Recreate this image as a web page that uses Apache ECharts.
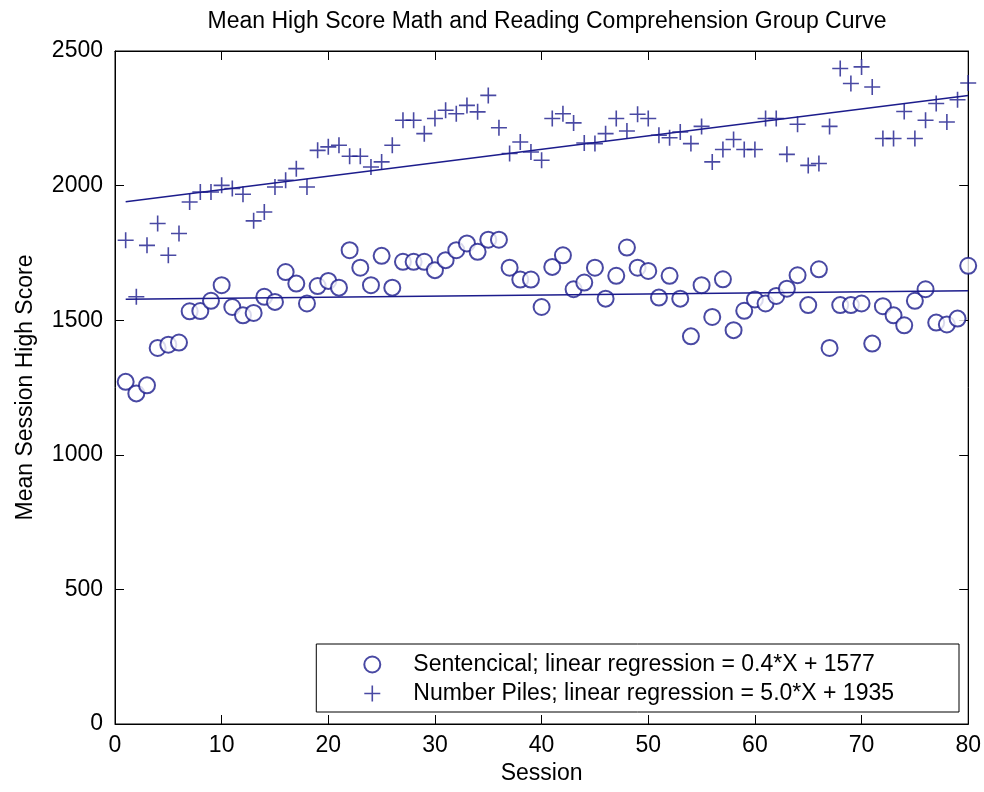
<!DOCTYPE html>
<html>
<head>
<meta charset="utf-8">
<script src="https://cdn.jsdelivr.net/npm/echarts@6/dist/echarts.min.js"></script>
<style>
html,body{margin:0;padding:0;background:#fff;}
#chart{width:984px;height:792px;}
</style>
</head>
<body>
<div id="chart"></div>
<script>
const sessions = [1,2,3,4,5,6,7,8,9,10,11,12,13,14,15,16,17,18,19,20,21,22,23,24,25,26,27,28,29,30,31,32,33,34,35,36,37,38,39,40,41,42,43,44,45,46,47,48,49,50,51,52,53,54,55,56,57,58,59,60,61,62,63,64,65,66,67,68,69,70,71,72,73,74,75,76,77,78,79,80];
const sentencical = [1271,1228,1258,1397,1409,1417,1533,1534,1572,1630,1549,1518,1527,1587,1568,1679,1636,1562,1627,1646,1621,1760,1695,1630,1739,1621,1717,1717,1717,1686,1723,1760,1785,1754,1799,1799,1695,1651,1651,1549,1698,1741,1615,1640,1695,1580,1665,1770,1695,1683,1584,1665,1580,1440,1630,1512,1652,1463,1535,1577,1562,1590,1617,1667,1556,1689,1397,1556,1556,1562,1413,1552,1518,1481,1572,1615,1491,1484,1506,1702];
const numberPiles = [1797,1587,1778,1859,1741,1822,1939,1976,1976,2001,1989,1968,1869,1902,1995,2020,2063,1995,2131,2144,2150,2109,2109,2069,2088,2150,2243,2243,2193,2249,2280,2267,2298,2274,2335,2215,2119,2162,2125,2094,2249,2267,2233,2158,2156,2193,2249,2203,2265,2249,2187,2178,2199,2156,2220,2088,2134,2171,2134,2134,2249,2249,2116,2228,2075,2082,2220,2435,2379,2441,2366,2175,2175,2275,2175,2243,2305,2236,2319,2381];
const regSentencical = {slope: 0.4, intercept: 1577};
const regNumberPiles = {slope: 5.0, intercept: 1935};
const xTicks = [0,10,20,30,40,50,60,70,80];
const yTicks = [0,500,1000,1500,2000,2500];
const seriesNames = ['Sentencical; linear regression = 0.4*X + 1577', 'Number Piles; linear regression = 5.0*X + 1935'];

const FONT = '"Liberation Sans Narrow","Arial Narrow","Liberation Sans",sans-serif';
const FS = 23;
const C = '#1c1c8c';
const PLUS = 'path://M4.5,0 L5.5,0 L5.5,4.5 L10,4.5 L10,5.5 L5.5,5.5 L5.5,10 L4.5,10 L4.5,5.5 L0,5.5 L0,4.5 L4.5,4.5 Z';

function pairs(xs, ys){ return xs.map((x,i)=>[x, ys[i]]); }
function regLine(r){
  const x0 = sessions[0], x1 = sessions[sessions.length-1];
  return [[x0, r.slope*x0 + r.intercept],[x1, r.slope*x1 + r.intercept]];
}
const plain = v => String(v);

const chart = echarts.init(document.getElementById('chart'), null, {renderer:'canvas'});
const axisCommon = {
  axisLine:{show:true, onZero:false, lineStyle:{color:'#000', width:1}},
  axisTick:{show:true, inside:true, length:9, lineStyle:{color:'#000', width:1}},
  splitLine:{show:false}
};
chart.setOption({
  backgroundColor:'#fff',
  animation:false,
  title:{
    text:'Mean High Score Math and Reading Comprehension Group Curve',
    left:542, top:5, textAlign:'center',
    textStyle:{fontFamily:FONT, fontSize:FS, fontWeight:'normal', color:'#000'}
  },
  grid:{left:115, right:14, top:51, bottom:68, show:true, borderColor:'#000', borderWidth:1, backgroundColor:'#fff'},
  legend:{
    data:seriesNames.map(n=>({name:n})),
    orient:'vertical', right:25, bottom:80,
    backgroundColor:'#fff', borderColor:'#000', borderWidth:1,
    padding:[9,65,7,47], itemGap:6, itemWidth:16, itemHeight:16,
    textStyle:{fontFamily:FONT, fontSize:FS, color:'#000', padding:[0,0,0,28]}
  },
  xAxis:[
    Object.assign({type:'value', min:xTicks[0], max:xTicks[xTicks.length-1], interval:10, position:'bottom',
      name:'Session', nameLocation:'middle', nameGap:38,
      nameTextStyle:{fontFamily:FONT, fontSize:FS, color:'#000'},
      axisLabel:{fontFamily:FONT, fontSize:FS, color:'#000', margin:10, formatter:plain}}, axisCommon),
    Object.assign({type:'value', min:xTicks[0], max:xTicks[xTicks.length-1], interval:10, position:'top',
      axisLabel:{show:false}}, axisCommon)
  ],
  yAxis:[
    Object.assign({type:'value', min:yTicks[0], max:yTicks[yTicks.length-1], interval:500, position:'left',
      name:'Mean Session High Score', nameLocation:'middle', nameGap:78, nameRotate:90,
      nameTextStyle:{fontFamily:FONT, fontSize:FS, color:'#000'},
      axisLabel:{fontFamily:FONT, fontSize:FS, color:'#000', margin:12, formatter:plain}}, axisCommon),
    Object.assign({type:'value', min:yTicks[0], max:yTicks[yTicks.length-1], interval:500, position:'right',
      axisLabel:{show:false}}, axisCommon)
  ],
  series:[
    {name:seriesNames[0], type:'scatter', data:pairs(sessions, sentencical),
     symbol:'emptyCircle', symbolSize:16,
     itemStyle:{color:C, borderColor:C, borderWidth:1.5}},
    {name:seriesNames[1], type:'scatter', data:pairs(sessions, numberPiles),
     symbol:PLUS, symbolSize:16, itemStyle:{color:C}},
    {name:'regS', type:'line', data:regLine(regSentencical), symbol:'none',
     lineStyle:{color:C, width:1.5}},
    {name:'regN', type:'line', data:regLine(regNumberPiles), symbol:'none',
     lineStyle:{color:C, width:1.5}}
  ]
});
</script>
</body>
</html>
